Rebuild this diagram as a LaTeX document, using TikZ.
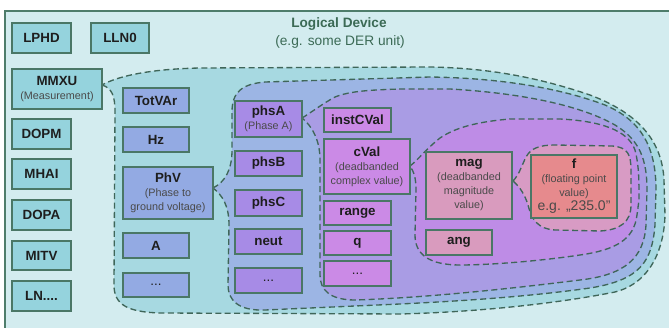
\documentclass[tikz,border=0pt]{standalone}
\usepackage{fontspec}
\setmainfont{Liberation Sans}
\usepackage{xcolor}

\definecolor{bgfill}{HTML}{D3ECEF}
\definecolor{bgline}{HTML}{4E7D6B}
\definecolor{boxline}{HTML}{4A7766}
\definecolor{dashline}{HTML}{3F6659}
\definecolor{ldfill}{HTML}{95D3DD}
\definecolor{dofill}{HTML}{93AAE3}
\definecolor{phsfill}{HTML}{A78BE6}
\definecolor{valfill}{HTML}{CB8AE6}
\definecolor{magfill}{HTML}{D99BBE}
\definecolor{ffill}{HTML}{E68A8D}
\definecolor{zoneA}{HTML}{A7D9E1}
\definecolor{zoneB}{HTML}{9CB5E4}
\definecolor{zoneC}{HTML}{A99CE4}
\definecolor{zoneD}{HTML}{BE8CE6}
\definecolor{zoneE}{HTML}{D89BC4}
\definecolor{labeltext}{HTML}{1E1E1E}
\definecolor{subtext}{HTML}{4A4A4A}
\definecolor{titletext}{HTML}{3B6A55}

\newcommand\subtxt[1]{{\fontsize{8.1}{10.5}\selectfont\mdseries\color{subtext}#1}}

\tikzset{
  box/.style={draw=boxline, line width=1pt, inner sep=0pt, align=center,
    text=labeltext, font=\fontsize{10}{10.5}\selectfont\bfseries},
  sz/.style 2 args={minimum width=#1*0.75pt, minimum height=#2*0.75pt},
  ldbox/.style={box, fill=ldfill},
  dobox/.style={box, fill=dofill},
  phsbox/.style={box, fill=phsfill},
  valbox/.style={box, fill=valfill},
  magbox/.style={box, fill=magfill},
  fbox/.style={box, fill=ffill},
  zone/.style={draw=dashline, line width=1pt, dash pattern=on 4.5pt off 2.6pt},
  titlefont/.style={text=titletext, inner sep=0pt},
}

\begin{document}
\begin{tikzpicture}[x=0.75pt,y=-0.75pt]
\useasboundingbox (0,0) rectangle (669,328);

% device frame
\draw[bgline, fill=bgfill, line width=1pt] (5,11) rectangle (680,340);

\node[titlefont, font=\fontsize{10.2}{12}\selectfont\bfseries] (title) at (339,24) {Logical Device};
\node[titlefont, font=\fontsize{10.3}{12}\selectfont] (subtitle) at (340,42) {(e.g. some DER unit)};

% nested data-object zones
\coordinate (mmxuTip) at (102,85);
\coordinate (phvTip) at (213,188);
\coordinate (phsaTip) at (302,118);
\coordinate (cvalTip) at (410,166);
\coordinate (magTip) at (513,181);

\path[zone, fill=zoneA] (mmxuTip) .. controls (112,88) and (115,96) .. (115,112)
  -- (114,285) .. controls (114,305) and (128,312) .. (160,313)
  -- (400,314) .. controls (480,312) and (560,303) .. (615,292)
  .. controls (650,283) and (664,250) .. (665,215)
  -- (664,180) .. controls (662,138) and (635,112) .. (590,95)
  .. controls (540,78) and (490,68) .. (430,67)
  -- (200,68) .. controls (150,69) and (118,76) .. (mmxuTip) -- cycle;

\path[zone, fill=zoneB] (phvTip) .. controls (225,182) and (232,170) .. (232,150)
  -- (232,112) .. controls (232,92) and (242,84) .. (265,82)
  -- (430,77) .. controls (500,78) and (560,88) .. (605,105)
  .. controls (640,120) and (656,145) .. (656,190)
  -- (655,225) .. controls (652,262) and (640,280) .. (590,288)
  .. controls (520,298) and (440,302) .. (400,304)
  -- (265,310) .. controls (238,311) and (228,300) .. (228,285)
  -- (229,225) .. controls (229,205) and (222,195) .. (phvTip) -- cycle;

\path[zone, fill=zoneC] (phsaTip) .. controls (312,112) and (322,104) .. (335,97)
  .. controls (350,91) and (370,90) .. (400,89)
  -- (450,89) .. controls (520,93) and (580,105) .. (615,125)
  .. controls (640,140) and (647,160) .. (647,190)
  -- (646,225) .. controls (644,258) and (625,275) .. (580,280)
  .. controls (500,290) and (420,298) .. (355,300)
  .. controls (330,300) and (320,290) .. (320,275)
  -- (320,160) .. controls (320,140) and (312,126) .. (phsaTip) -- cycle;

\path[zone, fill=zoneD] (cvalTip) .. controls (418,160) and (425,150) .. (440,138)
  .. controls (455,128) and (475,122) .. (510,119)
  -- (560,119) .. controls (600,121) and (628,130) .. (635,150)
  .. controls (639,165) and (639,180) .. (639,200)
  -- (637,215) .. controls (634,240) and (615,250) .. (580,255)
  .. controls (540,261) and (490,265) .. (460,265)
  .. controls (430,265) and (415,255) .. (415,235)
  -- (416,190) .. controls (416,178) and (414,172) .. (cvalTip) -- cycle;

\path[zone, fill=zoneE] (magTip) .. controls (519,175) and (522,165) .. (526,157)
  .. controls (531,148) and (540,145) .. (555,145)
  -- (612,146) .. controls (628,147) and (631,155) .. (631,170)
  -- (631,205) .. controls (631,222) and (620,230) .. (600,231)
  -- (555,230) .. controls (538,229) and (532,220) .. (528,205)
  .. controls (525,195) and (520,187) .. (magTip) -- cycle;

% logical nodes
\node[ldbox, sz={59}{30}] (lphd) at (41.5,38) {LPHD};
\node[ldbox, sz={58}{30}] (lln0) at (120,38) {LLN0};
\node[ldbox, sz={90}{40}] (mmxu) at (57,89) {MMXU\\\subtxt{(Measurement)}};
\node[ldbox, sz={59}{30}] (dopm) at (41.5,134) {DOPM};
\node[ldbox, sz={59}{30}] (mhai) at (41.5,174) {MHAI};
\node[ldbox, sz={59}{30}] (dopa) at (41.5,215) {DOPA};
\node[ldbox, sz={59}{29}] (mitv) at (41.5,255.5) {MITV};
\node[ldbox, sz={59}{30}] (lnmore) at (41.5,296) {LN....};

% data objects
\node[dobox, sz={66}{25}] (totvar) at (156,100.5) {TotVAr};
\node[dobox, sz={66}{25}] (hz) at (156,139.5) {Hz};
\node[dobox, sz={90}{52}] (phv) at (168,193) {PhV\\\subtxt{(Phase to}\\\subtxt{ground voltage)}};
\node[dobox, sz={66}{25}] (amp) at (156,245.5) {A};
\node[dobox, sz={66}{24}] (domore) at (156,285) {\mdseries ...};

% sub data objects
\node[phsbox, sz={67}{36}] (phsa) at (268.5,119) {phsA\\\subtxt{(Phase A)}};
\node[phsbox, sz={67}{25}] (phsb) at (268.5,163.5) {phsB};
\node[phsbox, sz={67}{26}] (phsc) at (268.5,203) {phsC};
\node[phsbox, sz={67}{25}] (neut) at (268.5,241.5) {neut};
\node[phsbox, sz={67}{25}] (phsmore) at (268.5,280.5) {\mdseries ...};

% data attributes
\node[valbox, sz={67}{24}] (instcval) at (357.5,120) {instCVal};
\node[valbox, sz={86}{55}] (cval) at (367,166.5) {cVal\\\subtxt{(deadbanded}\\\subtxt{complex value)}};
\node[valbox, sz={67}{24}] (range) at (357.5,213) {range};
\node[valbox, sz={67}{24}] (qual) at (357.5,243) {q};
\node[valbox, sz={67}{25}] (valmore) at (357.5,273.5) {\mdseries ...};

% sub attributes
\node[magbox, sz={86}{67}] (mag) at (469,185.5) {mag\\\subtxt{(deadbanded}\\\subtxt{magnitude}\\\subtxt{value)}};
\node[magbox, sz={66}{25}] (ang) at (459,242.5) {ang};

% basic value
\node[fbox, sz={86}{63}] (fval) at (574,186.5) {f\\\subtxt{(floating point}\\\subtxt{value)}\\{\fontsize{10.5}{10.5}\selectfont\mdseries\color{subtext}e.g. „235.0"}};
\end{tikzpicture}
\end{document}
